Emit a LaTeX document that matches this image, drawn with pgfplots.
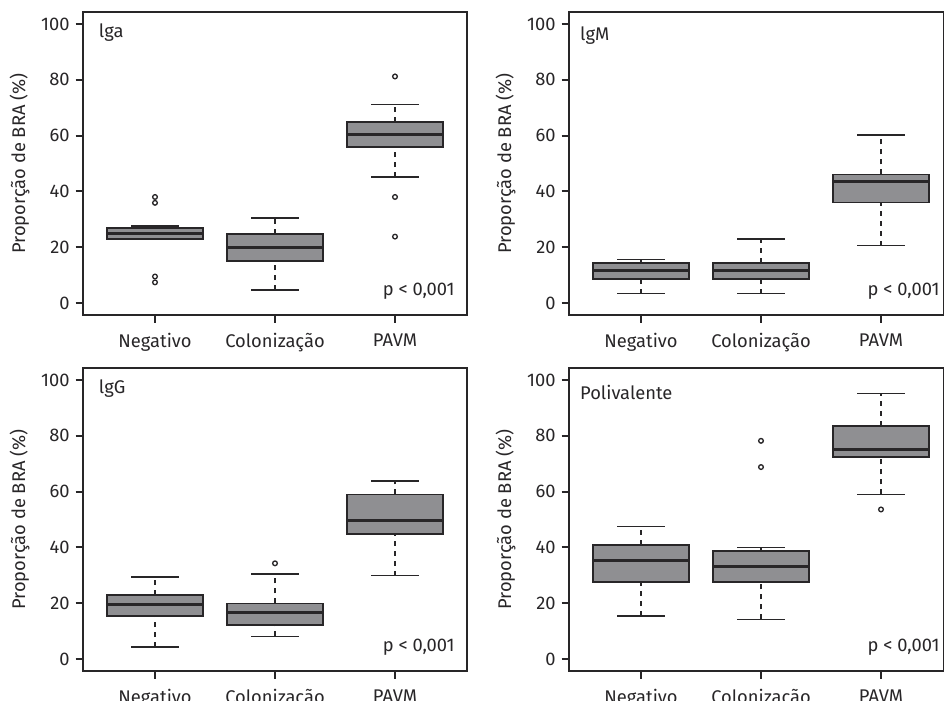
\documentclass[border=0pt]{standalone}
\usepackage{fontspec}
\setmainfont{Fira Sans}
\usepackage{pgfplots}
\pgfplotsset{compat=1.18}
\usepgfplotslibrary{statistics}

\definecolor{boxgray}{RGB}{143,143,146}
\definecolor{ink}{RGB}{40,38,40}

\tikzset{
  panel/.style={anchor=base west, inner sep=0pt, text=ink},
  pval/.style={anchor=base east, inner sep=0pt, text=ink},
}

\pgfplotsset{
  bra/.style={
    scale only axis,
    width=230.4pt, height=181.8pt,
    xmin=0.4, xmax=3.6, ymin=-4.3, ymax=104.3,
    xtick={1,2,3},
    xticklabels={Negativo,Colonização,PAVM},
    ytick={0,20,40,60,80,100},
    tick pos=left,
    tick align=outside,
    major tick length=4.5pt,
    axis line style={ink, line width=1.1pt},
    tick style={ink, line width=1.1pt},
    font=\fontsize{11}{13}\selectfont,
    ticklabel style={font=\fontsize{11}{13}\selectfont, text=ink},
    /pgf/number format/assume math mode=true,
    xticklabel style={yshift=-3pt},
    ylabel={Proporção de BRA (\%)},
    every axis y label/.style={at={(axis description cs:0,0.5)}, xshift=-38pt, rotate=90, anchor=center, text=ink},
    boxplot/draw direction=y,
    boxplot/box extend=0.8,
    boxplot/whisker extend=0.4,
    boxplot/every box/.style={draw=ink, line width=1.0pt, fill=boxgray},
    boxplot/every median/.style={draw=ink, line width=1.8pt},
    boxplot/draw/lower whisker/.code={
      \draw[ink, line width=0.9pt, dash pattern=on 3pt off 3pt]
        (boxplot box cs:\pgfplotsboxplotvalue{lower whisker},0.5) --
        (boxplot box cs:\pgfplotsboxplotvalue{lower quartile},0.5);
      \draw[ink, line width=1.0pt]
        (boxplot whisker cs:\pgfplotsboxplotvalue{lower whisker},0) --
        (boxplot whisker cs:\pgfplotsboxplotvalue{lower whisker},1);
    },
    boxplot/draw/upper whisker/.code={
      \draw[ink, line width=0.9pt, dash pattern=on 3pt off 3pt]
        (boxplot box cs:\pgfplotsboxplotvalue{upper quartile},0.5) --
        (boxplot box cs:\pgfplotsboxplotvalue{upper whisker},0.5);
      \draw[ink, line width=1.0pt]
        (boxplot whisker cs:\pgfplotsboxplotvalue{upper whisker},0) --
        (boxplot whisker cs:\pgfplotsboxplotvalue{upper whisker},1);
    },
  },
  bplot/.style={ink, mark=o, mark size=1.4pt, mark options={line width=0.8pt, ink}},
}

\begin{document}
\begin{tikzpicture}

% lga
\begin{axis}[bra, at={(49.8pt,-7.2pt)}, anchor=north west]
  \addplot[bplot, boxplot prepared={draw position=1, lower whisker=22.9, lower quartile=22.9, median=24.8, upper quartile=26.8, upper whisker=27.7}]
    coordinates {(0,38.0) (0,35.9) (0,9.5) (0,7.4)};
  \addplot[bplot, boxplot prepared={draw position=2, lower whisker=4.6, lower quartile=15.1, median=20.0, upper quartile=24.8, upper whisker=30.5}]
    coordinates {};
  \addplot[bplot, boxplot prepared={draw position=3, lower whisker=45.1, lower quartile=55.9, median=60.5, upper quartile=64.8, upper whisker=71.1}]
    coordinates {(0,81.2) (0,38.0) (0,23.8)};
  \node[panel] at (axis cs:0.53,95.2) {lga};
  \node[pval] at (axis cs:3.5,2.8) {p < 0,001};
\end{axis}

% lgM
\begin{axis}[bra, width=225pt, xmax=3.525, at={(341.4pt,-7.2pt)}, anchor=north west]
  \addplot[bplot, boxplot prepared={draw position=1, lower whisker=3.4, lower quartile=8.6, median=11.6, upper quartile=14.3, upper whisker=15.6}]
    coordinates {};
  \addplot[bplot, boxplot prepared={draw position=2, lower whisker=3.4, lower quartile=8.6, median=11.6, upper quartile=14.3, upper whisker=22.9}]
    coordinates {};
  \addplot[bplot, boxplot prepared={draw position=3, lower whisker=20.6, lower quartile=36.0, median=43.5, upper quartile=46.1, upper whisker=60.1}]
    coordinates {};
  \node[panel] at (axis cs:0.49,94.0) {lgM};
  \node[pval] at (axis cs:3.49,2.8) {p < 0,001};
\end{axis}

% lgG
\begin{axis}[bra, at={(49.8pt,-220.8pt)}, anchor=north west]
  \addplot[bplot, boxplot prepared={draw position=1, lower whisker=4.3, lower quartile=15.3, median=19.7, upper quartile=23.0, upper whisker=29.3}]
    coordinates {};
  \addplot[bplot, boxplot prepared={draw position=2, lower whisker=8.1, lower quartile=12.3, median=16.7, upper quartile=19.9, upper whisker=30.4}]
    coordinates {(0,34.3)};
  \addplot[bplot, boxplot prepared={draw position=3, lower whisker=29.9, lower quartile=44.7, median=49.6, upper quartile=59.0, upper whisker=63.9}]
    coordinates {};
  \node[panel] at (axis cs:0.53,95.3) {lgG};
  \node[pval] at (axis cs:3.5,2.8) {p < 0,001};
\end{axis}

% Polivalente
\begin{axis}[bra, width=225pt, xmax=3.525, at={(341.4pt,-220.8pt)}, anchor=north west]
  \addplot[bplot, boxplot prepared={draw position=1, lower whisker=15.4, lower quartile=27.6, median=35.3, upper quartile=40.9, upper whisker=47.5}]
    coordinates {};
  \addplot[bplot, boxplot prepared={draw position=2, lower whisker=14.2, lower quartile=27.6, median=33.0, upper quartile=38.6, upper whisker=40.0}]
    coordinates {(0,78.2) (0,68.8)};
  \addplot[bplot, boxplot prepared={draw position=3, lower whisker=59.0, lower quartile=72.5, median=75.0, upper quartile=83.6, upper whisker=95.2}]
    coordinates {(0,53.6)};
  \node[panel] at (axis cs:0.49,93.0) {Polivalente};
  \node[pval] at (axis cs:3.49,2.8) {p < 0,001};
\end{axis}

\pgfresetboundingbox
\path[use as bounding box] (0pt,0pt) rectangle (566.4pt,-420pt);
\end{tikzpicture}
\end{document}
